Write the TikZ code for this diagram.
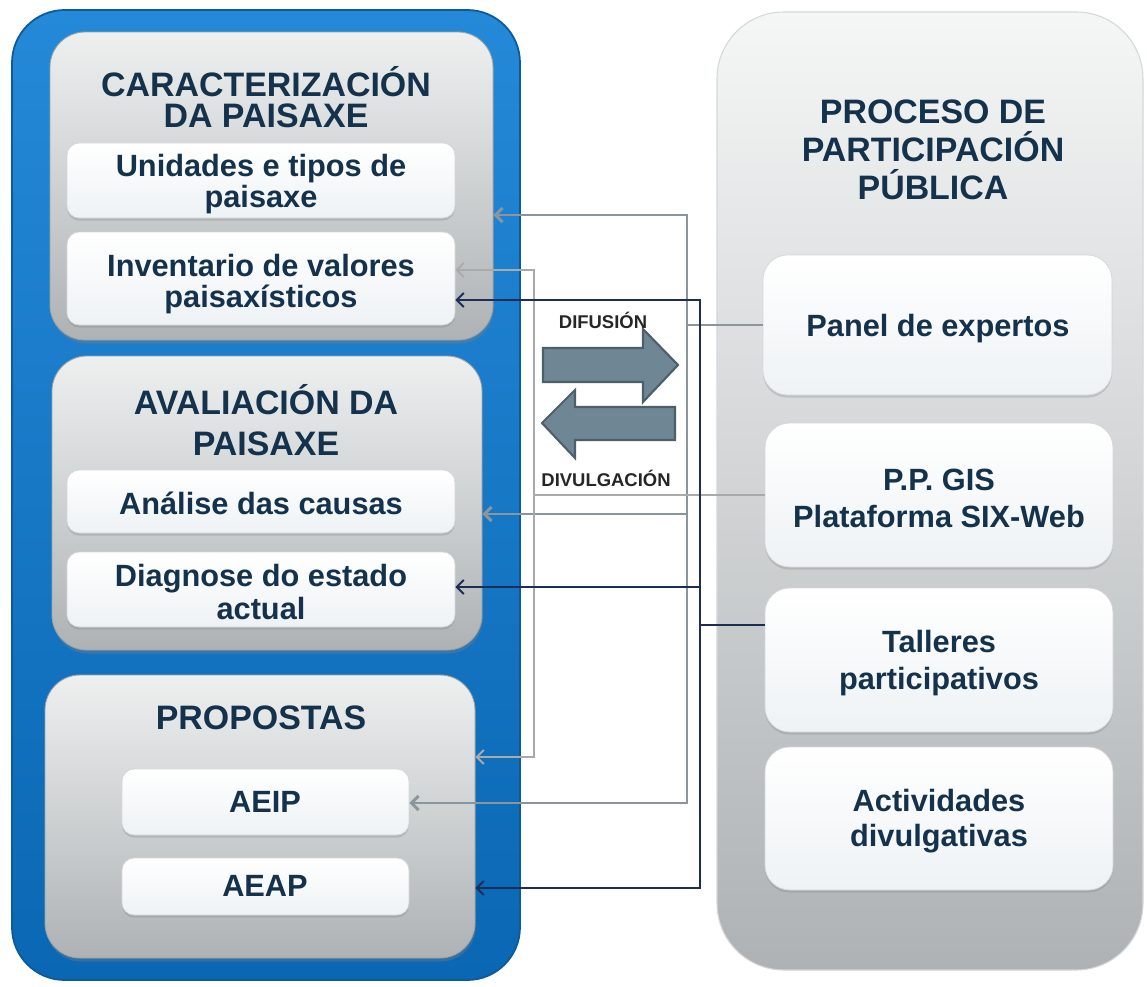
\documentclass[tikz,border=0pt]{standalone}
\usepackage{fontspec}
\setmainfont{Liberation Sans}
\usepackage{tikz}
\usetikzlibrary{fit,arrows.meta,shadows}
\definecolor{bluetop}{HTML}{2489D8}
\definecolor{bluebot}{HTML}{0A67B3}
\definecolor{blueedge}{HTML}{0B5A9C}
\definecolor{graytop}{HTML}{EEF0F0}
\definecolor{graybot}{HTML}{AEB2B4}
\definecolor{grayedge}{HTML}{9EA3A6}
\definecolor{itembot}{HTML}{EEF2F4}
\definecolor{itemedge}{HTML}{D3D8DB}
\definecolor{txt}{HTML}{14324C}
\definecolor{gline}{HTML}{8B969C}
\definecolor{lline}{HTML}{A9ABAB}
\definecolor{nline}{HTML}{1E2D55}
\definecolor{bigarrow}{HTML}{6F8795}
\definecolor{bigedge}{HTML}{4E5F69}
\begin{document}
\begin{tikzpicture}[x=0.02cm,y=-0.02cm,
	>={Straight Barb[length=4pt,width=8pt]},
	bluecol/.style={rounded corners=30pt,top color=bluetop,bottom color=bluebot,draw=blueedge,line width=1pt,inner sep=0pt},
	graycol/.style={rounded corners=38pt,top color=graytop!60!white,bottom color=graybot,draw=itemedge,line width=0.6pt,inner sep=0pt},
	grayblock/.style={rounded corners=20pt,top color=graytop,bottom color=graybot,draw=grayedge,line width=0.5pt,inner sep=0pt,drop shadow={shadow xshift=0.5pt,shadow yshift=-2pt,opacity=0.35}},
	itembox/.style={rounded corners=#1,top color=white,bottom color=itembot,draw=itemedge,line width=0.4pt,inner sep=0pt,drop shadow={shadow xshift=0pt,shadow yshift=-1.5pt,opacity=0.3}},
	itembox/.default=7pt,
	titletext/.style={font=\bfseries\fontsize{19.3}{#1}\selectfont,text=txt,align=center},
	titletext/.default=18,
	bodytext/.style={font=\bfseries\fontsize{17.5}{#1}\selectfont,text=txt,align=center},
	bodytext/.default=17.5,
	smalllabel/.style={font=\bfseries\fontsize{10.5}{12}\selectfont,text=black!85},
	grayline/.style={draw=gline,line width=1.7pt},
	lightline/.style={draw=lline,line width=1.1pt},
	navyline/.style={draw=nline,line width=1.1pt}]
\fill[white] (0,0) rectangle (1147,987);
\useasboundingbox (0,0) rectangle (1147,987);
%left column
\node[bluecol, fit={(12,10) (520,980)}] (left) {};
\node[grayblock, fit={(50,32) (493,340)}] (carac) {};
\node[titletext] (caractit) at (266,97) {CARACTERIZACIÓN\\DA PAISAXE};
\node[itembox, fit={(67,143) (455,218)}] (unid) {};
\node[bodytext] (unidtxt) at (261,184) {Unidades e tipos de\\paisaxe};
\node[itembox, fit={(67,232) (455,325)}] (invent) {};
\node[bodytext] (inventtxt) at (261,284) {Inventario de valores\\paisaxísticos};
\node[grayblock, fit={(52,356) (482,650)}] (aval) {};
\node[titletext=23] (avaltit) at (266,420) {AVALIACIÓN DA\\PAISAXE};
\node[itembox, fit={(67,470) (455,533)}] (analise) {};
\node[bodytext] (analisetxt) at (261,503) {Análise das causas};
\node[itembox, fit={(67,552) (455,627)}] (diag) {};
\node[bodytext=19] (diagtxt) at (261,592) {Diagnose do estado\\actual};
\node[grayblock, fit={(45,675) (475,958)}] (propos) {};
\node[titletext] (proptit) at (261,718) {PROPOSTAS};
\node[itembox, fit={(122,769) (409,835)}] (aeip) {};
\node[bodytext] (aeiptxt) at (265,802) {AEIP};
\node[itembox, fit={(122,858) (409,915)}] (aeap) {};
\node[bodytext] (aeaptxt) at (265,886) {AEAP};
%right column
\node[graycol, fit={(717,12) (1143,970)}] (right) {};
\node[titletext=21.5] (proctit) at (933,150) {PROCESO DE\\PARTICIPACIÓN\\PÚBLICA};
\node[itembox=14pt, fit={(763,255) (1112,395)}] (panel) {};
\node[bodytext] (paneltxt) at (938,329) {Panel de expertos};
\node[itembox=14pt, fit={(765,423) (1113,567)}] (ppgis) {};
\node[bodytext=21] (ppgistxt) at (939,498) {P.P. GIS\\Plataforma SIX-Web};
\node[itembox=14pt, fit={(765,588) (1113,732)}] (talleres) {};
\node[bodytext=21] (tallerestxt) at (939,663) {Talleres\\participativos};
\node[itembox=14pt, fit={(765,747) (1113,890)}] (activ) {};
\node[bodytext=20] (activtxt) at (939,821) {Actividades\\divulgativas};
%big arrows
\draw[fill=bigarrow,draw=bigedge,line width=1.2pt,line join=miter] (543,348) -- (643,348) -- (643,329) -- (678,365) -- (643,402) -- (643,382) -- (543,382) -- cycle;
\draw[fill=bigarrow,draw=bigedge,line width=1.2pt,line join=miter] (675,407) -- (575,407) -- (575,390) -- (542,423) -- (575,458) -- (575,440) -- (675,440) -- cycle;
\node[smalllabel] (difus) at (603,320) {DIFUSIÓN};
\node[smalllabel] (divul) at (606,478) {DIVULGACIÓN};
%links from panel de expertos
\coordinate (gtop) at (687,215);
\coordinate (gmid) at (687,514);
\coordinate (gbot) at (687,803);
\draw[grayline] (panel.west) -- (panel.west -| gtop);
\draw[grayline,<->] (gtop -| carac.east) -- (gtop) -- (gbot) -- (gbot -| aeip.east);
\draw[grayline,->] (gmid) -- (gmid -| aval.east);
%links from p.p. gis
\coordinate (ltop) at (534,270);
\coordinate (lbot) at (534,757);
\draw[lightline] (ppgis.west) -- (ppgis.west -| ltop);
\draw[lightline,<->] (ltop -| invent.east) -- (ltop) -- (lbot) -- (lbot -| propos.east);
%links from talleres
\coordinate (ntop) at (700,300);
\coordinate (njoin) at (700,625);
\coordinate (nmid) at (700,587);
\coordinate (nbot) at (700,888);
\draw[navyline] (njoin -| talleres.west) -- (njoin);
\draw[navyline,<->] (ntop -| invent.east) -- (ntop) -- (nbot) -- (nbot -| propos.east);
\draw[navyline,->] (nmid) -- (nmid -| diag.east);
\end{tikzpicture}
\end{document}
